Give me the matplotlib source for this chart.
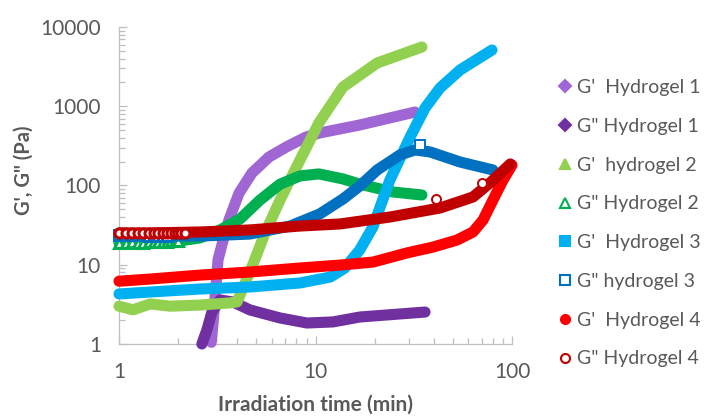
import matplotlib
matplotlib.use('Agg')
import matplotlib.pyplot as plt
from matplotlib.lines import Line2D
from matplotlib.ticker import FixedLocator, FixedFormatter, LogLocator, NullFormatter

plt.rcParams['font.family'] = ['Lato', 'DejaVu Sans']

# ---------------- data ----------------
# Hydrogel 1
g1p_t = [2.95, 3.02, 3.19, 3.46, 3.63, 4.08, 4.75, 5.8, 7.1, 8.95, 10.5, 16.8, 32.1]
g1p_v = [1.05, 2.0, 11.5, 25, 37, 80, 144, 229, 306, 409, 460, 580, 846]
g1pp_t = [2.64, 2.80, 2.97, 3.27, 3.80, 4.64, 6.6, 9.05, 12.3, 16.8, 36.1]
g1pp_v = [1.0, 1.5, 2.53, 3.59, 3.39, 2.69, 2.13, 1.84, 1.90, 2.19, 2.53]
# Hydrogel 2
g2p_t = [1.0, 1.18, 1.44, 1.82, 2.58, 3.67, 3.99, 4.75, 5.53, 6.6, 8.34, 10.4, 13.8, 20.6, 34.8]
g2p_v = [3.0, 2.7, 3.2, 3.0, 3.1, 3.3, 3.4, 9.4, 25, 65.6, 210, 615, 1750, 3515, 5594]
g2pp_t = [1.0, 1.44, 2.04, 2.58, 3.27, 4.13, 5.22, 6.6, 8.34, 10.4, 13.8, 16.8, 24.8, 34.8]
g2pp_v = [18.8, 19.4, 20.0, 21.8, 27.5, 37.8, 65.6, 104, 132, 140, 121, 104, 82.8, 75.9]
g2pp_early_t = [1.0, 1.08, 1.17, 1.25, 1.33, 1.42, 1.5, 1.58, 1.67, 1.75, 1.83, 1.92, 2.0]
g2pp_early_v = [18.8, 18.9, 19.1, 18.9, 19.0, 19.2, 19.4, 19.3, 19.5, 19.6, 19.8, 19.7, 20.0]
# Hydrogel 3
g3p_t = [1.0, 1.44, 2.58, 4.64, 8.34, 11.9, 14.1, 16.8, 19.6, 23.9, 30.3, 36.1, 43.0, 54.4, 79.1]
g3p_v = [4.28, 4.53, 4.94, 5.24, 5.89, 7.0, 9.1, 15.4, 30, 117, 409, 951, 1700, 2866, 5128]
g3pp_t = [1.0, 1.44, 2.58, 4.64, 7.42, 10.5, 13.8, 16.8, 20.6, 26.9, 32.1, 38.3, 54.4, 80.0]
g3pp_v = [23.7, 23.0, 23.0, 24.4, 30.8, 43.7, 67.6, 98.6, 157, 243, 281, 265, 198, 157]
g3pp_early_t = [1.0, 1.08, 1.17, 1.25, 1.33, 1.42, 1.5, 1.58, 1.67, 1.75]
g3pp_early_v = [23.7, 23.5, 23.6, 23.4, 23.5, 23.3, 23.4, 23.2, 23.3, 23.1]
g3pp_out_t = [34.0]
g3pp_out_v = [324]
# Hydrogel 4
g4p_t = [1.0, 1.44, 2.58, 4.64, 8.34, 13.3, 19.6, 29.2, 39.6, 52.5, 63.3, 71.2, 80.0, 90.0, 100]
g4p_v = [6.2, 6.6, 7.4, 8.1, 9.1, 9.9, 10.8, 14.1, 16.7, 20.5, 25.9, 36.7, 65.6, 117, 181]
g4pp_t = [1.0, 1.44, 2.58, 4.64, 8.34, 13.3, 23.9, 43.0, 63.3, 77.3, 98.0]
g4pp_v = [25.2, 25.2, 25.9, 27.5, 30.8, 32.7, 40, 52, 71.6, 108, 187]
g4pp_early_t = [1.0, 1.08, 1.17, 1.25, 1.33, 1.42, 1.5, 1.58, 1.67, 1.75, 1.83, 1.92, 2.0, 2.08, 2.17]
g4pp_early_v = [25.2, 25.0, 25.3, 25.1, 25.2, 25.4, 25.0, 25.2, 25.3, 25.1, 25.2, 25.4, 25.3, 25.2, 25.5]
g4pp_out_t = [41.1, 70.3]
g4pp_out_v = [67.6, 108]

labels = ["G'  Hydrogel 1", 'G" Hydrogel 1', "G'  hydrogel 2", 'G" Hydrogel 2',
          "G'  Hydrogel 3", 'G" hydrogel 3', "G'  Hydrogel 4", 'G" Hydrogel 4']
x_ticks = [1, 10, 100]
x_tick_labels = ['1', '10', '100']
y_ticks = [1, 10, 100, 1000, 10000]
y_tick_labels = ['1', '10', '100', '1000', '10000']

# ---------------- figure ----------------
W, H = 709, 417
fig = plt.figure(figsize=(W / 100, H / 100), dpi=100)
ax = fig.add_axes([119 / W, (H - 344) / H, 393 / W, 317 / H])
ax.set_xscale('log')
ax.set_yscale('log')
ax.set_xlim(1, 100)
ax.set_ylim(1, 10000)

LW = 8.0
series = [
    (g1p_t, g1p_v, '#A066D3', 'D', True, None, None, None, None),
    (g1pp_t, g1pp_v, '#7030A0', 'D', True, None, None, None, None),
    (g2p_t, g2p_v, '#92D050', '^', True, None, None, None, None),
    (g2pp_t, g2pp_v, '#00B050', '^', False, g2pp_early_t, g2pp_early_v, None, None),
    (g3p_t, g3p_v, '#00B0F0', 's', True, None, None, None, None),
    (g3pp_t, g3pp_v, '#0070C0', 's', False, g3pp_early_t, g3pp_early_v, g3pp_out_t, g3pp_out_v),
    (g4p_t, g4p_v, '#FF0000', 'o', True, None, None, None, None),
    (g4pp_t, g4pp_v, '#C00000', 'o', False, g4pp_early_t, g4pp_early_v, g4pp_out_t, g4pp_out_v),
]

handles = []
for i, (t, v, c, m, filled, et, ev, ot, ov) in enumerate(series):
    z = 3 + 2 * i
    ax.plot(t, v, color=c, lw=LW, solid_capstyle='round', solid_joinstyle='round',
            clip_on=False, zorder=z)
    mfc = c if filled else 'white'
    if et is not None:
        ax.plot(et, ev, ls='none', marker=m, ms=6.5, mfc='white', mec=c, mew=2.2,
                clip_on=False, zorder=z + 0.5)
    if ot is not None:
        ax.plot(ot, ov, ls='none', marker=m, ms=6.5, mfc='white', mec=c, mew=1.4,
                clip_on=False, zorder=z + 0.5)
    ms = 6.0 if m == 'D' else 6.5
    handles.append(Line2D([], [], ls='none', marker=m, ms=ms, color=c, mfc=mfc, mec=c,
                          mew=1.5))

# axes styling
for s in ['top', 'right']:
    ax.spines[s].set_visible(False)
for s in ['left', 'bottom']:
    ax.spines[s].set_color('#BFBFBF')
    ax.spines[s].set_linewidth(0.9)

ax.xaxis.set_major_locator(FixedLocator(x_ticks))
ax.xaxis.set_major_formatter(FixedFormatter(x_tick_labels))
ax.yaxis.set_major_locator(FixedLocator(y_ticks))
ax.yaxis.set_major_formatter(FixedFormatter(y_tick_labels))
ax.xaxis.set_minor_locator(LogLocator(base=10, subs=range(2, 10)))
ax.yaxis.set_minor_locator(LogLocator(base=10, subs=range(2, 10)))
ax.xaxis.set_minor_formatter(NullFormatter())
ax.yaxis.set_minor_formatter(NullFormatter())
ax.tick_params(which='both', direction='in', color='#BFBFBF', width=0.9,
               labelcolor='#595959', labelsize=15, pad=13)
ax.tick_params(which='major', length=5.5)
ax.tick_params(which='minor', length=4)

fig.text(315 / W, 1 - 405 / H, 'Irradiation time (min)', ha='center', va='center',
         fontsize=15, fontweight='bold', color='#595959')
fig.text(24 / W, 1 - 170 / H, 'G\', G" (Pa)', ha='center', va='center', rotation=90,
         fontsize=14.5, fontweight='bold', color='#595959')

fig.legend(handles, labels, loc='upper left', bbox_to_anchor=(558 / W, 1 - 79 / H),
           frameon=False, fontsize=14, labelcolor='#595959', labelspacing=1.12,
           handlelength=0.7, handletextpad=0.3, borderpad=0, borderaxespad=0)

fig.savefig('out.png', dpi=100)
